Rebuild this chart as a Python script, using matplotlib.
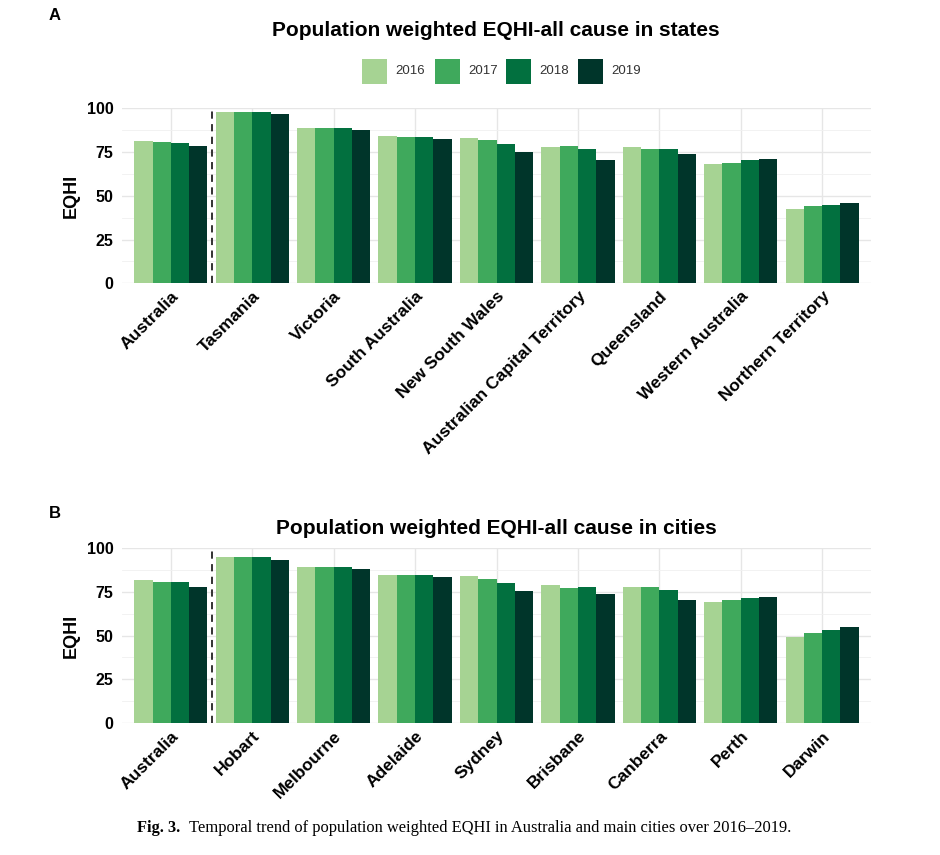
import matplotlib
matplotlib.use("Agg")
import matplotlib.pyplot as plt
import numpy as np
from matplotlib.patches import Rectangle

years = ["2016", "2017", "2018", "2019"]
colors = ["#a6d393", "#3fa95c", "#02703f", "#00352a"]

states = ["Australia", "Tasmania", "Victoria", "South Australia", "New South Wales",
          "Australian Capital Territory", "Queensland", "Western Australia", "Northern Territory"]
states_2016 = [81.5, 97.7, 88.6, 84.0, 83.2, 78.1, 77.7, 68.3, 42.3]
states_2017 = [80.9, 97.7, 88.6, 83.4, 81.9, 78.3, 76.6, 68.9, 44.2]
states_2018 = [80.3, 97.7, 88.6, 83.4, 79.8, 76.6, 76.6, 70.6, 44.7]
states_2019 = [78.5, 96.6, 87.4, 82.5, 75.2, 70.6, 73.7, 71.0, 45.9]

cities = ["Australia", "Hobart", "Melbourne", "Adelaide", "Sydney",
          "Brisbane", "Canberra", "Perth", "Darwin"]
cities_2016 = [81.6, 95.2, 89.5, 84.9, 83.9, 79.0, 77.6, 69.0, 49.3]
cities_2017 = [80.9, 95.2, 89.5, 84.5, 82.2, 77.1, 78.0, 70.2, 51.4]
cities_2018 = [80.5, 94.8, 89.5, 84.5, 79.9, 77.6, 76.1, 71.7, 53.0]
cities_2019 = [78.0, 93.5, 88.0, 83.5, 75.7, 74.0, 70.2, 72.1, 54.9]

yticks = [0, 25, 50, 75, 100]

plt.rcParams['font.family'] = ['Liberation Sans', 'DejaVu Sans']

W, H = 940, 855
fig = plt.figure(figsize=(W / 100, H / 100), dpi=100)


def panel(top_px, bottom_px, cats, series, title, title_y, letter, letter_y):
    ax = fig.add_axes([122 / W, 1 - bottom_px / H, 749 / W, (bottom_px - top_px) / H])
    x = np.arange(1, len(cats) + 1)
    bw = 0.225
    for i, (vals, c) in enumerate(zip(series, colors)):
        ax.bar(x + (i - 1.5) * bw, vals, width=bw, color=c, zorder=3, linewidth=0)
    ax.set_xlim(0.4, len(cats) + 0.6)
    ax.set_ylim(0, 100)
    ax.set_yticks(yticks)
    ax.set_yticks([12.5, 37.5, 62.5, 87.5], minor=True)
    ax.set_xticks(x)
    ax.set_xticklabels(cats, rotation=45, ha='right', va='top', rotation_mode='anchor',
                       fontsize=12.5, fontweight='bold', color='black')
    ax.set_yticklabels([str(t) for t in yticks], fontsize=11.5, fontweight='bold', color='black')
    ax.tick_params(axis='both', which='both', length=0)
    ax.tick_params(axis='x', pad=4)
    ax.tick_params(axis='y', pad=6)
    ax.grid(True, which='major', color='#e6e6e6', linewidth=1.0, zorder=0)
    ax.grid(True, which='minor', axis='y', color='#f0f0f0', linewidth=0.6, zorder=0)
    for s in ax.spines.values():
        s.set_visible(False)
    ax.axvline(1.5, color='#222222', linestyle=(0, (4, 3)), linewidth=1.3, zorder=4)
    ax.set_ylabel("EQHI", fontsize=13, fontweight='bold', labelpad=5)
    fig.text(496 / W, 1 - title_y / H, title, ha='center', va='center',
             fontsize=15, fontweight='bold')
    fig.text(55 / W, 1 - letter_y / H, letter, ha='center', va='center',
             fontsize=12, fontweight='bold')
    return ax


panel(108.3, 283.3, states, [states_2016, states_2017, states_2018, states_2019],
      "Population weighted EQHI-all cause in states", 31, "A", 16)
panel(548.3, 722.7, cities, [cities_2016, cities_2017, cities_2018, cities_2019],
      "Population weighted EQHI-all cause in cities", 529, "B", 513)

# legend
sq_x = [362, 435, 506, 578]
for xs, c, lab in zip(sq_x, colors, years):
    fig.patches.append(Rectangle((xs / W, 1 - 84 / H), 25 / W, 25 / H, transform=fig.transFigure,
                                 facecolor=c, edgecolor='none'))
    fig.text((xs + 33) / W, 1 - 71.5 / H, lab, ha='left', va='center', fontsize=9.5, color='#333333')

fig.text(137 / W, 1 - 828 / H, "Fig. 3.", ha='left', va='center', fontsize=11.8,
         family=['Liberation Serif', 'DejaVu Serif'], fontweight='bold')
fig.text(189 / W, 1 - 828 / H,
         "Temporal trend of population weighted EQHI in Australia and main cities over 2016\u20132019.",
         ha='left', va='center', fontsize=11.9, family=['Liberation Serif', 'DejaVu Serif'])

fig.savefig("out.png", dpi=100)
